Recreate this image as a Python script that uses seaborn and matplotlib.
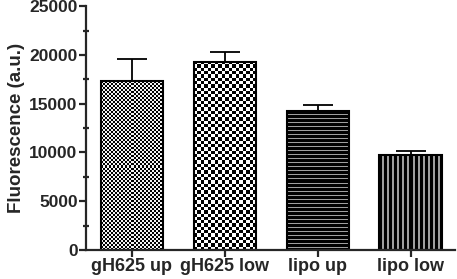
import numpy as np
import pandas as pd
import seaborn as sns
import matplotlib.pyplot as plt
from matplotlib.ticker import MultipleLocator

groups = ["gH625 up", "gH625 low", "lipo up", "lipo low"]
means = [17300, 19300, 14200, 9700]
errs = [2300, 1000, 700, 400]
fills = ["fine_checker", "checker", "hlines", "vlines"]


def texture(kind, w_px, h_px):
    # small pixel-ish patterns, one cell ~ one screen pixel
    if kind == "fine_checker":
        nx, ny = max(int(w_px / 2), 1), max(int(h_px / 2), 1)
        yy, xx = np.indices((ny, nx))
        return ((xx + yy) % 2).astype(float) * 0.95
    if kind == "checker":
        nx, ny = max(int(w_px / 3.3), 1), max(int(h_px / 3.3), 1)
        yy, xx = np.indices((ny, nx))
        return ((xx + yy) % 2).astype(float)
    if kind == "hlines":
        nx, ny = 1, max(int(h_px), 1)
        yy, xx = np.indices((ny, nx))
        return np.where(yy % 4 == 3, 0.62, 0.0)
    nx, ny = max(int(w_px), 1), 1
    yy, xx = np.indices((ny, nx))
    return np.where(xx % 5 >= 3, 0.62, 0.0)


df = pd.DataFrame({"group": groups, "value": means})

sns.set_style("ticks")
plt.rcParams["font.family"] = ["Liberation Sans", "DejaVu Sans"]
plt.rcParams["font.weight"] = "bold"

fig = plt.figure(figsize=(4.57, 2.79), dpi=100)
ax = fig.add_axes([0.188, 0.104, 0.808, 0.874])

sns.barplot(data=df, x="group", y="value", order=groups, width=0.67,
            facecolor="none", edgecolor="black", linewidth=1.5,
            errorbar=None, ax=ax)

ax.set_ylim(0, 25000)
ax.set_xlim(-0.496, 3.48)

# patterned fills clipped to each bar
for patch, kind in zip(ax.patches, fills):
    x0, y0 = patch.get_x(), patch.get_y()
    w, h = patch.get_width(), patch.get_height()
    p0 = ax.transData.transform((x0, y0))
    p1 = ax.transData.transform((x0 + w, y0 + h))
    arr = texture(kind, abs(p1[0] - p0[0]), abs(p1[1] - p0[1]))
    im = ax.imshow(arr, extent=[x0, x0 + w, y0, y0 + h], cmap="gray",
                   vmin=0, vmax=1, interpolation="nearest", aspect="auto",
                   zorder=0.5)
    im.set_clip_path(patch)
    patch.set_zorder(2)

ax.set_xlim(-0.496, 3.48)
ax.set_ylim(0, 25000)

ax.errorbar(range(len(groups)), means, yerr=[[0] * len(errs), errs],
            fmt="none", ecolor="black", elinewidth=1.3, capsize=11,
            capthick=1.3, zorder=1)

sns.despine(ax=ax)
for side in ["left", "bottom"]:
    ax.spines[side].set_linewidth(1.6)

ax.yaxis.set_major_locator(MultipleLocator(5000))
ax.yaxis.set_minor_locator(MultipleLocator(2500))
ax.tick_params(axis="y", which="major", length=5, width=1.6, labelsize=12.5, pad=1)
ax.tick_params(axis="y", which="minor", length=4, width=1.6, direction="inout")
ax.tick_params(axis="x", which="major", length=5, width=1.6, labelsize=13, pad=1)

ax.set_xlabel("")
ax.set_ylabel("Fluorescence (a.u.)", fontsize=13.5, fontweight="bold", labelpad=3)

fig.savefig("out.png", dpi=100)
plt.close(fig)
